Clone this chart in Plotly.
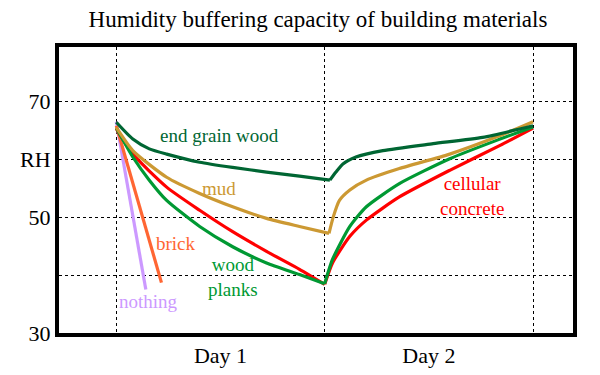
import plotly.graph_objects as go

# hours since start; Day 1 = drying (0-24 h), Day 2 = humidifying (24-48 h)
end_grain_x = [0, 1.9, 3.8, 5.8, 9.6, 13.4, 17.3, 21.1, 24.6, 25.3, 26.1, 27.6, 30.7, 36.5, 42.2, 48]
end_grain_y = [66.4, 63.5, 61.8, 60.9, 59.5, 58.6, 57.8, 57.1, 56.4, 57.8, 59.2, 60.4, 61.5, 62.7, 63.8, 65.8]

mud_x = [0, 1.9, 5.8, 9.6, 13.4, 17.3, 21.1, 24.5, 25.0, 25.7, 26.9, 28.8, 32.6, 38.4, 44.2, 48]
mud_y = [65.5, 61.5, 56.9, 54.1, 51.8, 49.8, 48.4, 47.2, 50.1, 52.9, 54.7, 56.4, 58.4, 60.9, 64.1, 66.5]

planks_x = [0, 1.9, 3.8, 5.8, 9.6, 13.4, 17.3, 21.1, 24.0, 24.9, 26.9, 28.8, 32.6, 38.4, 44.2, 48]
planks_y = [65.4, 60.4, 56.4, 52.9, 48.4, 44.9, 42.1, 40.1, 38.5, 42.7, 48.4, 51.8, 55.8, 60.1, 63.5, 65.6]

concrete_x = [0, 1.9, 5.8, 9.6, 13.4, 17.3, 21.1, 24.0, 24.9, 26.9, 28.8, 32.6, 38.4, 44.2, 48]
concrete_y = [65.3, 60.9, 55.2, 51.2, 47.5, 44.1, 41.0, 38.4, 42.1, 46.7, 49.5, 53.5, 58.1, 62.4, 65.4]

brick_x = [0, 5.2]
brick_y = [65.8, 38.7]

nothing_x = [0, 3.4]
nothing_y = [66.5, 37.5]

series = [
    ("nothing", nothing_x, nothing_y, "#CC99FF"),
    ("brick", brick_x, brick_y, "#FF6633"),
    ("cellular concrete", concrete_x, concrete_y, "#FF0000"),
    ("wood planks", planks_x, planks_y, "#009933"),
    ("mud", mud_x, mud_y, "#CC9933"),
    ("end grain wood", end_grain_x, end_grain_y, "#006633"),
]

# labels: (text, x in hours, RH, colour)
labels = [
    ("nothing", 3.7, 35.5, "#CC99FF"),
    ("brick", 6.9, 45.5, "#FF6633"),
    ("cellular<br>concrete", 41.0, 53.6, "#FF0000"),
    ("wood<br>planks", 13.4, 39.7, "#009933"),
    ("mud", 11.8, 54.9, "#CC9933"),
    ("end grain wood", 11.9, 64.2, "#006633"),
]

SERIF = "Liberation Serif, Times New Roman, serif"

fig = go.Figure()
for name, xs, ys, color in series:
    # split each curve at its minimum so the turn at the end of day 1 stays sharp
    k = ys.index(min(ys))
    for seg_x, seg_y in ((xs[:k + 1], ys[:k + 1]), (xs[k:], ys[k:])):
        if len(seg_x) < 2:
            continue
        fig.add_trace(go.Scatter(x=seg_x, y=seg_y, mode="lines", name=name,
                                 line=dict(color=color, width=3.2, shape="spline", smoothing=0.6)))
for text, lx, ly, color in labels:
    fig.add_annotation(x=lx, y=ly, text=text, showarrow=False, borderpad=0,
                       font=dict(family=SERIF, size=19, color=color))

fig.update_layout(
    width=600, height=375,
    margin=dict(l=59, r=27, t=47, b=42),
    paper_bgcolor="white", plot_bgcolor="white",
    showlegend=False,
    font=dict(family=SERIF, color="black"),
    title=dict(text="Humidity buffering capacity of building materials",
               x=0.53, xanchor="center", y=0.95, yanchor="middle",
               font=dict(size=23, family=SERIF, color="black")),
)
fig.update_xaxes(
    range=[-6.6, 52.6], tickvals=[12, 36], ticktext=["Day 1", "Day 2"],
    showgrid=False, zeroline=False, ticks="", tickfont=dict(size=22, family=SERIF),
    showline=True, linewidth=4, linecolor="black", mirror=True, automargin=False,
    minor=dict(tickvals=[0, 24, 48], showgrid=True, griddash="dot",
               gridcolor="black", gridwidth=1, ticks=""),
)
fig.update_yaxes(
    range=[30, 79.4], tickvals=[30, 40, 50, 60, 70], ticktext=["30", "", "50", "RH", "70"],
    showgrid=True, griddash="dot", gridcolor="black", gridwidth=1,
    zeroline=False, ticks="", tickfont=dict(size=22, family=SERIF),
    showline=True, linewidth=4, linecolor="black", mirror=True, automargin=False,
)
fig.write_html("out.html", config={"displayModeBar": False},
               post_script="document.body.style.margin='0px';")
